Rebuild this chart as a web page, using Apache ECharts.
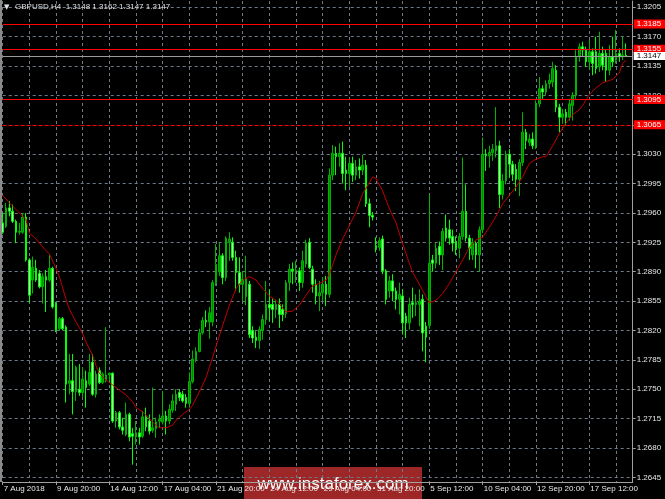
<!DOCTYPE html>
<html>
<head>
<meta charset="utf-8">
<script src="https://cdn.jsdelivr.net/npm/echarts@6/dist/echarts.min.js"></script>
<style>
html,body{margin:0;padding:0;background:#000;}
#c{width:665px;height:499px;}
</style>
</head>
<body>
<div id="c"></div>
<script>
// ---- Data (GBPUSD H4) ----
const symbolName = 'GBPUSD,H4';
const O = [1.2948,1.2944,1.2966,1.2962,1.2950,1.2937,1.2937,1.2955,1.2904,1.2880,1.2894,1.2888,1.2872,1.2884,1.2880,1.2894,1.2852,1.2822,1.2834,1.2824,
1.2757,1.2760,1.2747,1.2750,1.2746,1.2760,1.2756,1.2782,1.2744,1.2772,1.2758,1.2760,1.2767,1.2769,1.2712,1.2722,1.2705,1.2696,1.2720,1.2697,
1.2693,1.2698,1.2694,1.2717,1.2712,1.2701,1.2703,1.2712,1.2711,1.2718,1.2712,1.2725,1.2732,1.2746,1.2744,1.2740,1.2733,1.2759,1.2785,1.2795,
1.2817,1.2832,1.2830,1.2830,1.2877,1.2890,1.2909,1.2883,1.2925,1.2925,1.2907,1.2889,1.2875,1.2860,1.2875,1.2820,1.2812,1.2808,1.2820,1.2833,
1.2851,1.2851,1.2845,1.2851,1.2845,1.2840,1.2877,1.2893,1.2891,1.2891,1.2877,1.2899,1.2925,1.2893,1.2875,1.2861,1.2865,1.2875,1.2863,1.3005,
1.3031,1.3027,1.3031,1.3011,1.3007,1.3019,1.3005,1.3015,1.3011,1.3017,1.2971,1.2957,1.2921,1.2919,1.2929,1.2891,1.2867,1.2879,1.2867,1.2857,
1.2861,1.2837,1.2829,1.2853,1.2851,1.2851,1.2857,1.2825,1.2826,1.2904,1.2900,1.2920,1.2910,1.2942,1.2940,1.2932,1.2926,1.2918,1.2932,1.2962,
1.2930,1.2910,1.2924,1.2910,1.2940,1.3030,1.3028,1.3032,1.3034,1.3040,1.2982,1.2998,1.3030,1.3018,1.3012,1.3000,1.3020,1.3056,1.3044,1.3048,
1.3040,1.3090,1.3108,1.3104,1.3114,1.3116,1.3130,1.3086,1.3074,1.3080,1.3074,1.3088,1.3100,1.3146,1.3158,1.3154,1.3140,1.3152,1.3152,1.3134,
1.3150,1.3150,1.3130,1.3146,1.3142,1.3150,1.3146,1.3148];
const H = [1.2960,1.2972,1.2974,1.2970,1.2952,1.2948,1.2960,1.2960,1.2906,1.2908,1.2904,1.2892,1.2888,1.2892,1.2910,1.2896,1.2854,1.2836,1.2836,1.2826,
1.2792,1.2792,1.2778,1.2780,1.2776,1.2772,1.2792,1.2792,1.2772,1.2776,1.2770,1.2824,1.2770,1.2770,1.2724,1.2724,1.2716,1.2734,1.2722,1.2704,
1.2712,1.2704,1.2724,1.2728,1.2720,1.2752,1.2716,1.2720,1.2748,1.2724,1.2732,1.2744,1.2750,1.2750,1.2748,1.2744,1.2770,1.2796,1.2800,1.2822,
1.2836,1.2844,1.2848,1.2880,1.2923,1.2925,1.2912,1.2932,1.2937,1.2931,1.2915,1.2907,1.2891,1.2909,1.2879,1.2825,1.2819,1.2825,1.2839,1.2879,
1.2869,1.2858,1.2856,1.2858,1.2851,1.2880,1.2899,1.2901,1.2903,1.2895,1.2915,1.2928,1.2930,1.2897,1.2881,1.2879,1.2883,1.2885,1.3013,1.3041,
1.3039,1.3043,1.3045,1.3027,1.3025,1.3027,1.3023,1.3025,1.3029,1.3023,1.2977,1.2961,1.2931,1.2931,1.2933,1.2893,1.2885,1.2887,1.2871,1.2877,
1.2869,1.2841,1.2859,1.2871,1.2863,1.2869,1.2863,1.2830,1.2982,1.2910,1.2924,1.2926,1.2942,1.2958,1.2952,1.2940,1.2932,1.2936,1.3026,1.2994,
1.2934,1.2930,1.2926,1.2944,1.3050,1.3036,1.3040,1.3042,1.3086,1.3046,1.3006,1.3034,1.3036,1.3022,1.3018,1.3024,1.3080,1.3060,1.3054,1.3056,
1.3094,1.3122,1.3112,1.3118,1.3126,1.3140,1.3136,1.3090,1.3084,1.3084,1.3096,1.3104,1.3154,1.3162,1.3164,1.3158,1.3166,1.3156,1.3170,1.3176,
1.3158,1.3154,1.3160,1.3170,1.3178,1.3156,1.3170,1.3162];
const L = [1.2935,1.2942,1.2956,1.2948,1.2924,1.2934,1.2935,1.2902,1.2853,1.2864,1.2878,1.2870,1.2852,1.2842,1.2878,1.2846,1.2818,1.2820,1.2820,1.2734,
1.2744,1.2720,1.2736,1.2742,1.2740,1.2728,1.2754,1.2742,1.2740,1.2756,1.2756,1.2758,1.2760,1.2710,1.2704,1.2702,1.2696,1.2694,1.2688,1.2660,
1.2684,1.2684,1.2692,1.2700,1.2696,1.2698,1.2692,1.2704,1.2708,1.2696,1.2708,1.2722,1.2724,1.2736,1.2734,1.2728,1.2728,1.2757,1.2782,1.2794,
1.2815,1.2824,1.2810,1.2825,1.2873,1.2885,1.2875,1.2879,1.2903,1.2903,1.2867,1.2865,1.2855,1.2850,1.2811,1.2805,1.2799,1.2798,1.2809,1.2827,
1.2831,1.2829,1.2835,1.2823,1.2831,1.2835,1.2867,1.2875,1.2877,1.2867,1.2871,1.2895,1.2893,1.2865,1.2851,1.2843,1.2855,1.2849,1.2859,1.2999,
1.3005,1.3015,1.2995,1.2987,1.2991,1.2997,1.2999,1.3001,1.3005,1.2967,1.2943,1.2951,1.2913,1.2915,1.2887,1.2851,1.2859,1.2855,1.2845,1.2839,
1.2815,1.2811,1.2821,1.2835,1.2837,1.2825,1.2795,1.2782,1.2822,1.2890,1.2894,1.2898,1.2892,1.2926,1.2922,1.2914,1.2910,1.2906,1.2928,1.2926,
1.2904,1.2904,1.2894,1.2890,1.2936,1.3010,1.3014,1.3022,1.3026,1.2966,1.2976,1.2994,1.3002,1.2998,1.2986,1.2980,1.3016,1.3036,1.3040,1.3036,
1.3036,1.3086,1.3096,1.3100,1.3108,1.3110,1.3080,1.3056,1.3066,1.3064,1.3070,1.3070,1.3096,1.3140,1.3146,1.3134,1.3130,1.3124,1.3126,1.3128,
1.3130,1.3116,1.3124,1.3134,1.3138,1.3140,1.3142,1.3147];
const C = [1.2937,1.2966,1.2962,1.2950,1.2937,1.2938,1.2955,1.2904,1.2862,1.2895,1.2880,1.2872,1.2884,1.2880,1.2894,1.2848,1.2820,1.2834,1.2822,1.2756,
1.2760,1.2747,1.2776,1.2746,1.2762,1.2752,1.2770,1.2744,1.2768,1.2758,1.2768,1.2767,1.2769,1.2712,1.2722,1.2705,1.2701,1.2720,1.2693,1.2694,
1.2698,1.2693,1.2717,1.2705,1.2700,1.2704,1.2711,1.2714,1.2718,1.2712,1.2726,1.2736,1.2744,1.2740,1.2736,1.2733,1.2759,1.2786,1.2795,1.2817,
1.2832,1.2830,1.2841,1.2877,1.2899,1.2909,1.2883,1.2930,1.2929,1.2907,1.2889,1.2875,1.2881,1.2882,1.2815,1.2811,1.2808,1.2821,1.2833,1.2851,
1.2847,1.2845,1.2851,1.2839,1.2839,1.2877,1.2893,1.2891,1.2892,1.2877,1.2903,1.2924,1.2895,1.2875,1.2861,1.2865,1.2875,1.2863,1.3005,1.3031,
1.3027,1.3031,1.3007,1.3007,1.3019,1.3005,1.3015,1.3011,1.3017,1.2971,1.2957,1.2955,1.2919,1.2927,1.2891,1.2857,1.2879,1.2867,1.2857,1.2863,
1.2829,1.2829,1.2851,1.2851,1.2853,1.2855,1.2817,1.2812,1.2900,1.2900,1.2918,1.2910,1.2938,1.2930,1.2930,1.2924,1.2918,1.2932,1.2962,1.2930,
1.2918,1.2924,1.2910,1.2940,1.3030,1.3028,1.3032,1.3036,1.3040,1.2982,1.2998,1.3030,1.3018,1.3006,1.3000,1.3020,1.3056,1.3046,1.3048,1.3040,
1.3090,1.3108,1.3104,1.3114,1.3118,1.3132,1.3086,1.3074,1.3078,1.3074,1.3090,1.3100,1.3146,1.3158,1.3154,1.3140,1.3152,1.3138,1.3132,1.3150,
1.3136,1.3130,1.3146,1.3140,1.3150,1.3146,1.3148,1.3147];

// moving average line, read at points along the curve: [bar index, price]
const maIdx = [0,2,5,7,8,10,13,14,16,17,19,20,22,24,25,27,28,29,31,33,35,37,39,40,42,44,46,47,49,51,52,54,56,57,58,60,61,62,64,66,68,70,72,74,76,78,80,82,84,85,87,89,91,93,95,97,98,100,102,104,106,108,110,111,112,114,116,118,120,122,123,125,127,128,130,132,134,136,138,140,142,144,146,148,150,152,154,156,158,160,162,163,165,167,169,171,173,174,176,178,180,182,183,185,186,187];
const maVal = [1.2981,1.2972,1.2960,1.2952,1.2936,1.2929,1.2915,1.2911,1.2894,1.2884,1.2857,1.2845,1.2830,1.2816,1.2806,1.2790,1.2778,1.2769,1.2761,1.2755,1.2749,1.2743,1.2735,1.2728,1.2723,1.2715,1.2707,1.2704,1.2704,1.2707,1.2713,1.2720,1.2726,1.2731,1.2739,1.2755,1.2764,1.2776,1.2801,1.2826,1.2850,1.2870,1.2880,1.2884,1.2880,1.2870,1.2861,1.2856,1.2847,1.2842,1.2843,1.2850,1.2862,1.2873,1.2876,1.2880,1.2887,1.2910,1.2929,1.2945,1.2961,1.2983,1.2996,1.3003,1.3001,1.2986,1.2965,1.2948,1.2923,1.2900,1.2889,1.2875,1.2860,1.2853,1.2856,1.2864,1.2876,1.2890,1.2904,1.2919,1.2928,1.2931,1.2943,1.2956,1.2971,1.2981,1.2991,1.3003,1.3019,1.3024,1.3027,1.3027,1.3040,1.3055,1.3067,1.3077,1.3083,1.3088,1.3101,1.3109,1.3115,1.3118,1.3119,1.3127,1.3138,1.3142];

// horizontal levels drawn on the chart
const levelPrices = [1.3185, 1.3155, 1.3095, 1.3065];
const levelDashed = [false, false, false, true];

// price scale tick labels
const yTicks = [1.2645,1.2680,1.2715,1.2750,1.2785,1.2820,1.2855,1.2890,1.2925,1.2960,1.2995,1.3030,1.3065,1.3100,1.3135,1.3170,1.3205];

// time axis: H4 bars from 7 Aug 2018 04:00 (server time), weekdays only
const startYear = 2018, startMonth = 7, startDay = 7, startHour = 4;
const totalSlots = 190;
const labelEvery = 16, gridEvery = 8;

// ---- build categories ----
const MON = ['Jan','Feb','Mar','Apr','May','Jun','Jul','Aug','Sep','Oct','Nov','Dec'];
const cats = [];
let t = Date.UTC(startYear, startMonth, startDay, startHour);
while (cats.length < totalSlots) {
  const d = new Date(t);
  const wd = d.getUTCDay();
  if (wd !== 0 && wd !== 6) cats.push(t);
  t += 4 * 3600 * 1000;
}
function fmtCat(idx) {
  const d = new Date(cats[idx]);
  const day = d.getUTCDate(), mon = MON[d.getUTCMonth()];
  if (idx === 0) return day + ' ' + mon + ' ' + d.getUTCFullYear();
  const hh = String(d.getUTCHours()).padStart(2, '0');
  return day + ' ' + mon + ' ' + hh + ':00';
}
const catLabels = cats.map((c, i) => fmtCat(i));
const lastLabelIdx = O.length - 1;

const candleData = O.map((o, i) => [o, C[i], L[i], H[i]]);
const maData = maIdx.map((x, k) => [x, maVal[k]]);
const last = O.length - 1;
const headerText = symbolName + '  ' + O[last].toFixed(4) + ' ' + H[last].toFixed(4) + ' ' + L[last].toFixed(4) + ' ' + C[last].toFixed(4);

const FONT = 'Liberation Sans';
const GRIDCOL = '#6c7a89';

const chart = echarts.init(document.getElementById('c'), null, {renderer: 'canvas'});
const levelLines = [];
levelPrices.forEach((p, k) => levelLines.push({
  yAxis: p,
  lineStyle: {color: '#ff0000', width: 1, type: levelDashed[k] ? [4, 2] : 'solid'},
  label: {
    show: true, position: 'end', distance: 1,
    formatter: () => p.toFixed(4),
    backgroundColor: '#ff0000', color: '#ffffff',
    fontSize: 8, fontFamily: FONT, padding: [1, 4, 0, 3], lineHeight: 8
  }
}));
levelLines.push({
  yAxis: C[last],
  lineStyle: {color: '#9a9a9a', width: 1, type: 'solid'},
  label: {
    show: true, position: 'end', distance: 1,
    formatter: () => C[last].toFixed(4),
    backgroundColor: '#ffffff', color: '#000000',
    fontSize: 8, fontFamily: FONT, padding: [0, 4, 0, 3], lineHeight: 8
  }
});

const showLabel = idx => idx % labelEvery === 0 && idx <= lastLabelIdx;

chart.setOption({
  backgroundColor: '#000000',
  animation: false,
  grid: {left: 2.7, right: 32.3, top: 1, bottom: 17, containLabel: false},
  xAxis: {
    type: 'category',
    data: catLabels,
    boundaryGap: false,
    axisLine: {show: true, lineStyle: {color: '#a0a0a0', width: 1}},
    axisTick: {show: true, interval: showLabel, length: 3, lineStyle: {color: '#a0a0a0'}},
    axisLabel: {
      show: true, interval: showLabel, color: '#e8e8e8', fontSize: 8, fontFamily: FONT,
      align: 'left', margin: 3, padding: [0, 0, 0, 1], hideOverlap: false
    },
    splitLine: {show: true, interval: idx => idx % gridEvery === 0, lineStyle: {color: GRIDCOL, type: [3, 3], width: 1}}
  },
  yAxis: {
    type: 'value',
    position: 'right',
    min: 1.26394, max: 1.32125,
    scale: true,
    axisLine: {show: true, lineStyle: {color: '#a0a0a0', width: 1}},
    axisTick: {show: true, length: 3, customValues: yTicks, lineStyle: {color: '#a0a0a0'}},
    axisLabel: {
      show: true, customValues: yTicks, color: '#e8e8e8', fontSize: 8, fontFamily: FONT,
      margin: 4, formatter: v => v.toFixed(4)
    },
    splitLine: {show: false}
  },
  series: [
    {
      type: 'candlestick',
      z: 3,
      barWidth: 2,
      data: candleData,
      itemStyle: {
        color: '#008a00', borderColor: '#00b400',
        color0: '#b4ffb4', borderColor0: '#00ff00',
        borderColorDoji: '#00ff00', borderWidth: 1
      },
      markLine: {
        silent: true, z: 1, precision: 5, symbol: ['none', 'none'], animation: false,
        label: {show: false},
        lineStyle: {color: GRIDCOL, type: [3, 3], width: 1},
        data: yTicks.map(v => ({yAxis: v}))
      }
    },
    {
      type: 'line',
      z: 5,
      data: maData,
      showSymbol: false,
      symbol: 'none',
      connectNulls: true,
      lineStyle: {color: '#c00000', width: 1},
      markLine: {
        silent: true, z: 6, precision: 5, symbol: ['none', 'none'], animation: false,
        data: levelLines
      }
    }
  ],
  graphic: [
    {type: 'line', shape: {x1: 1, y1: 0, x2: 1, y2: 482}, style: {stroke: '#8a8a8a', lineWidth: 2}, z: 10},
    {type: 'text', left: 4, top: 4, z: 20,
      style: {text: '▼', fill: '#e0e0e0', font: '7px "DejaVu Sans"'}},
    {type: 'text', left: 15, top: 3, z: 20,
      style: {text: headerText, fill: '#e0e0e0', font: '8px "Liberation Sans"'}},
    {type: 'group', z: 30, children: [
      {type: 'rect', shape: {x: 244, y: 467, width: 178, height: 32},
        style: {fill: 'rgba(185,45,45,0.85)'}},
      {type: 'text', x: 333, y: 484,
        style: {text: 'www.instaforex.com', fill: '#ffffff', font: '17px "Liberation Sans"',
          textAlign: 'center', textVerticalAlign: 'middle'}}
    ]}
  ]
});
</script>
</body>
</html>
